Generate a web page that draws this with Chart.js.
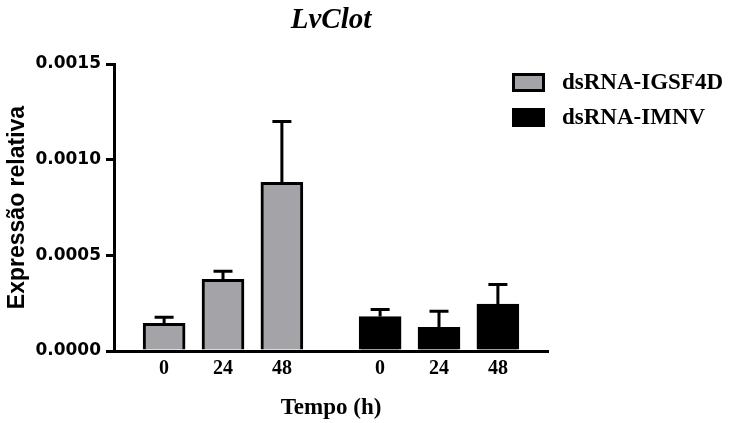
<!DOCTYPE html>
<html>
<head>
<meta charset="utf-8">
<script src="https://cdn.jsdelivr.net/npm/chart.js@4.4.0/dist/chart.umd.min.js"></script>
<style>
  html, body { margin: 0; padding: 0; background: #fff; }
  #wrap { width: 733px; height: 423px; }
</style>
</head>
<body>
<div id="wrap"><canvas id="chart" width="733" height="423"></canvas></div>
<script>
const TITLE = 'LvClot';
const SERIES = ['dsRNA-IGSF4D', 'dsRNA-IMNV'];
const TIMES = ['0', '24', '48'];
const IGSF4D_MEAN = [0.000145, 0.000374, 0.000882];
const IGSF4D_ERR = [0.000032, 0.000043, 0.000318];
const IMNV_MEAN = [0.000180, 0.000124, 0.000245];
const IMNV_ERR = [0.000037, 0.000084, 0.000103];
const Y_TICKS = [0, 0.0005, 0.0010, 0.0015];

const GREY = '#a3a3a8';
const GROUP_GAP = 1.668; // extra space between the two groups, in bar slots
const X_PAD = 0.851;

const pos = (g, i) => i + g * (TIMES.length - 1 + GROUP_GAP);
const positions = [0, 1].flatMap(g => TIMES.map((_, i) => pos(g, i)));
const tickLabels = [...TIMES, ...TIMES];

const serif = 'Liberation Serif, Times New Roman, serif';

const errorBars = {
  id: 'errorBars',
  afterDatasetsDraw(chart) {
    const { ctx } = chart;
    const y = chart.scales.y;
    ctx.save();
    ctx.strokeStyle = '#000';
    ctx.lineWidth = 3;
    chart.data.datasets.forEach((ds, di) => {
      chart.getDatasetMeta(di).data.forEach((bar, i) => {
        const top = y.getPixelForValue(ds.data[i].y + ds.err[i]);
        ctx.beginPath();
        ctx.moveTo(bar.x, bar.y);
        ctx.lineTo(bar.x, top);
        ctx.moveTo(bar.x - 9.5, top);
        ctx.lineTo(bar.x + 9.5, top);
        ctx.stroke();
      });
    });
    ctx.restore();
  }
};

const decorations = {
  id: 'decorations',
  afterDraw(chart) {
    const { ctx, chartArea } = chart;
    ctx.save();
    ctx.fillStyle = '#000';
    ctx.textAlign = 'center';
    ctx.textBaseline = 'alphabetic';
    ctx.font = `italic bold 29px ${serif}`;
    ctx.fillText(TITLE, (chartArea.left + chartArea.right) / 2, 28);

    ctx.font = `bold 23px ${serif}`;
    ctx.textAlign = 'left';
    ctx.textBaseline = 'middle';
    chart.data.datasets.forEach((ds, i) => {
      const bx = 512, by = 73 + i * 35;
      ctx.fillStyle = '#000';
      ctx.fillRect(bx, by, 33, 19);
      if (ds.backgroundColor !== '#000') {
        ctx.fillStyle = ds.backgroundColor;
        ctx.fillRect(bx + 3, by + 3, 27, 13);
      }
      ctx.fillStyle = '#000';
      ctx.fillText(ds.label, 562, by + 10);
    });
    ctx.restore();
  }
};

new Chart(document.getElementById('chart'), {
  type: 'bar',
  data: {
    datasets: [
      {
        label: SERIES[0],
        data: IGSF4D_MEAN.map((v, i) => ({ x: pos(0, i), y: v })),
        err: IGSF4D_ERR,
        backgroundColor: GREY
      },
      {
        label: SERIES[1],
        data: IMNV_MEAN.map((v, i) => ({ x: pos(1, i), y: v })),
        err: IMNV_ERR,
        backgroundColor: '#000'
      }
    ]
  },
  options: {
    responsive: false,
    animation: false,
    layout: { padding: { top: 64, right: 185, bottom: 0, left: 0 } },
    datasets: {
      bar: { grouped: false, barThickness: 42, borderWidth: 3, borderColor: '#000', borderSkipped: 'start' }
    },
    plugins: { legend: { display: false }, title: { display: false }, tooltip: { enabled: false } },
    scales: {
      x: {
        type: 'linear',
        offset: false,
        min: -X_PAD,
        max: positions[positions.length - 1] + X_PAD,
        z: 1,
        afterBuildTicks: s => { s.ticks = positions.map(v => ({ value: v })); },
        afterFit: s => { s.height = 72; },
        grid: { display: false, drawTicks: false, offset: false },
        border: { display: true, color: '#000', width: 3 },
        ticks: {
          color: '#000', padding: 6, autoSkip: false, maxRotation: 0,
          font: { family: serif, weight: 'bold', size: 20 },
          callback: (v, i) => tickLabels[i]
        },
        title: {
          display: true, text: 'Tempo (h)', color: '#000',
          font: { family: serif, weight: 'bold', size: 23 },
          padding: { top: 0, bottom: 1 }
        }
      },
      y: {
        min: 0,
        max: 0.0015,
        afterBuildTicks: s => { s.ticks = Y_TICKS.map(v => ({ value: v })); },
        afterFit: s => { s.width = 114; },
        grid: { display: true, drawOnChartArea: false, drawTicks: true, tickLength: 8, color: '#000', lineWidth: 3 },
        border: { display: true, color: '#000', width: 3 },
        ticks: {
          color: '#000', padding: 5,
          font: { family: 'DejaVu Sans', weight: 'bold', size: 17 },
          callback: v => v.toFixed(4)
        },
        title: {
          display: true, text: 'Expressão relativa', color: '#000',
          font: { family: 'Liberation Sans, Arial, sans-serif', weight: 'bold', size: 23 },
          padding: { top: 4, bottom: 0 }
        }
      }
    }
  },
  plugins: [errorBars, decorations]
});
</script>
</body>
</html>
